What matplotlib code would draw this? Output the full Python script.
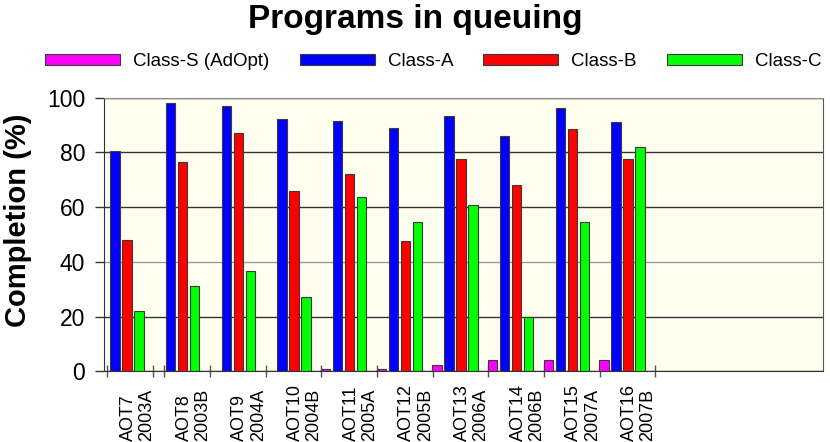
import numpy as np
import matplotlib
matplotlib.use('Agg')
import matplotlib.pyplot as plt

plt.rcParams['font.family'] = ['Liberation Sans', 'DejaVu Sans']

# proposals / semesters
aot = ['AOT7', 'AOT8', 'AOT9', 'AOT10', 'AOT11', 'AOT12', 'AOT13', 'AOT14', 'AOT15', 'AOT16']
semester = ['2003A', '2003B', '2004A', '2004B', '2005A', '2005B', '2006A', '2006B', '2007A', '2007B']

# completion in percent (nan = no bar)
class_s = [np.nan, np.nan, np.nan, np.nan, 0.8, 0.8, 2.3, 4.0, 4.0, 4.0]
class_a = [80.7, 98.0, 96.9, 92.2, 91.6, 89.1, 93.2, 85.9, 96.4, 91.2]
class_b = [48.1, 76.4, 87.0, 66.0, 72.1, 47.5, 77.5, 68.0, 88.5, 77.5]
class_c = [21.9, 31.3, 36.6, 27.1, 63.8, 54.6, 60.6, 19.9, 54.6, 81.8]

series = [('Class-S (AdOpt)', class_s, '#ff00ff'),
          ('Class-A', class_a, '#0000ff'),
          ('Class-B', class_b, '#ff0000'),
          ('Class-C', class_c, '#00ff00')]

fig = plt.figure(figsize=(8.3, 4.42), dpi=100)
ax = fig.add_axes([104/830, 1 - 371.3/442, (823 - 104)/830, (371.3 - 97.7)/442])
ax.set_facecolor('#fffff0')

x = np.arange(len(aot))
slot = 0.2156
width = 0.167
for k, (name, vals, col) in enumerate(series):
    ax.bar(x + (k - 1.5) * slot, vals, width, color=col, edgecolor='#3a3a3a',
           linewidth=0.8, label=name, zorder=3)

ax.set_xlim(-0.305, 12.61)
ax.set_ylim(0, 100)

# y axis: ticks reach out to the labels, grid lines across
ax.set_yticks([0, 20, 40, 60, 80, 100])
ax.tick_params(axis='y', direction='out', length=6.5, width=1, color='#333333',
               labelsize=16.5, pad=7)
ax.yaxis.grid(True, color='#333333', linewidth=1, zorder=1)
for gl, val in zip(ax.get_ygridlines(), ax.get_yticks()):
    if val == 40:
        gl.set_color('#9a9a9a')
for tl, val in zip(ax.yaxis.get_ticklines(), np.repeat(ax.get_yticks(), 2)):
    if val == 40:
        tl.set_color('#9a9a9a')

# x axis: small tick marks between groups, labels placed by hand below
xt = [-0.25, 0.58, 0.77] + list(np.arange(1, 10) + 0.6)
ax.set_xticks(xt)
ax.set_xticklabels([])
ax.tick_params(axis='x', direction='inout', length=9, width=1, color='#555555')

for s in ['left', 'bottom']:
    ax.spines[s].set_color('#333333')
ax.spines['top'].set_color('#8c8c8c')
ax.spines['right'].set_color('#555555')

trans = matplotlib.transforms.blended_transform_factory(ax.transData, fig.transFigure)
for i in range(len(aot)):
    ax.text(x[i] + 0.3, 0.003, aot[i] + '\n' + semester[i], transform=trans,
            rotation=90, ha='center', va='bottom', multialignment='left',
            linespacing=1.1, fontsize=13)

fig.text(0.5, 0.955, 'Programs in queuing', ha='center', va='center',
         fontsize=24, fontweight='bold')
fig.text(0.022, 0.502, 'Completion (%)', rotation=90, ha='center', va='center',
         fontsize=21, fontweight='bold')

handles, labels = ax.get_legend_handles_labels()
fig.legend(handles, labels, loc='center', bbox_to_anchor=(0.522, 0.86), ncol=4,
           frameon=False, fontsize=13.5, handlelength=4.0, handleheight=0.55,
           handletextpad=0.7, columnspacing=1.6)

fig.savefig('out.png', dpi=100)
